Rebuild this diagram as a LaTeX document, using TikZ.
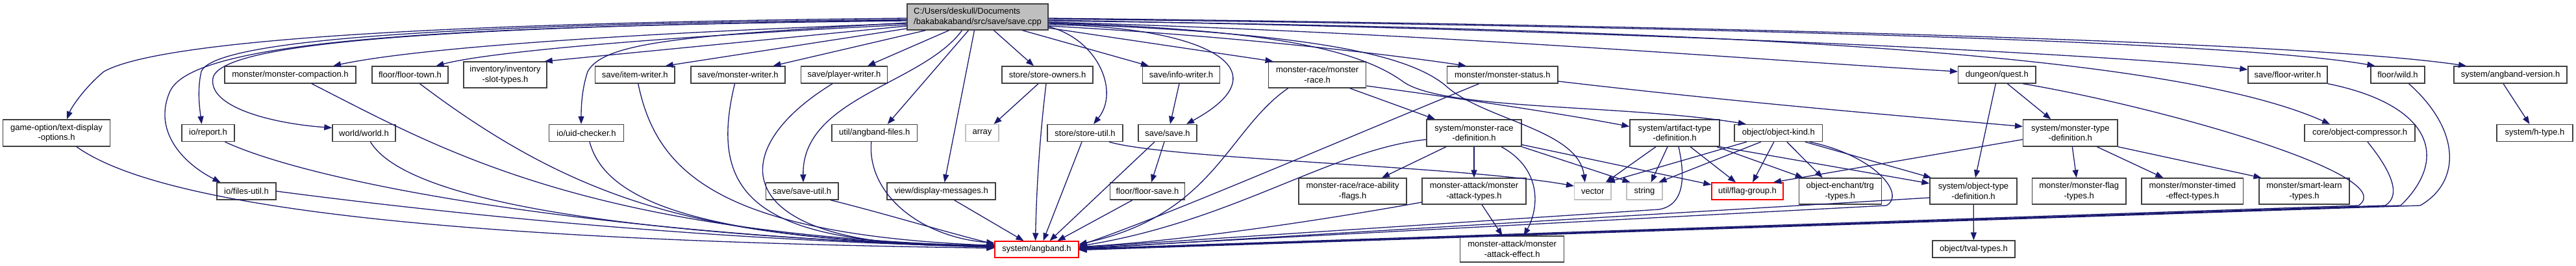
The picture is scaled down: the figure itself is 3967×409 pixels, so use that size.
\documentclass[tikz,border=0pt]{standalone}
\usepackage{fontspec}
\setmainfont{Liberation Sans}
\usetikzlibrary{arrows.meta}
\definecolor{edgecol}{HTML}{191970}
\definecolor{maingrey}{HTML}{BFBFBF}
\begin{document}
\begin{tikzpicture}[x=1pt,y=-1pt,
  filebox/.style={draw=black!75,line width=1.4pt,fill=white,inner sep=0pt,align=center,
    font=\fontsize{13}{15.3}\selectfont},
  onel/.style={minimum height=26pt},
  twol/.style={minimum height=40pt},
  wd/.style={minimum width=#1pt},
  extbox/.style={filebox,draw=maingrey},
  redbox/.style={filebox,draw=red},
  dep/.style={draw=edgecol,line width=1.3pt,-{Triangle[length=12pt,width=9pt]}},
]
\useasboundingbox[fill=white] (0,0) rectangle (3967,409);

% ---------- nodes ----------
\node[filebox,twol,wd=217,fill=maingrey,align=left] (main) at (1505.5,26) {C:/Users/deskull/Documents\\/bakabakaband/src/save/save.cpp};

% row 1
\node[filebox,onel,wd=202] (mcompact) at (447,115) {monster/monster-compaction.h};
\node[filebox,onel,wd=117] (floortown) at (631.5,115) {floor/floor-town.h};
\node[filebox,twol,wd=128] (invslot) at (778,115) {inventory/inventory\\-slot-types.h};
\node[filebox,onel,wd=122.5] (itemwriter) at (977.75,115) {save/item-writer.h};
\node[filebox,onel,wd=145] (monwriter) at (1136.5,115) {save/monster-writer.h};
\node[filebox,onel,wd=133.5] (playerwriter) at (1300,115) {save/player-writer.h};
\node[filebox,onel,wd=140] (storeowners) at (1613,115) {store/store-owners.h};
\node[filebox,onel,wd=118.6] (infowriter) at (1819,115) {save/info-writer.h};
\node[filebox,twol,wd=150] (monrace) at (2028.6,115) {monster-race/monster\\-race.h};
\node[filebox,onel,wd=170.4] (monstatus) at (2313.8,115) {monster/monster-status.h};
\node[filebox,onel,wd=119.4] (quest) at (3075.3,115) {dungeon/quest.h};
\node[filebox,onel,wd=122] (floorwriter) at (3523,115) {save/floor-writer.h};
\node[filebox,onel,wd=83] (floorwild) at (3692.5,115) {floor/wild.h};
\node[filebox,onel,wd=174] (angversion) at (3866,115) {system/angband-version.h};

% row 2
\node[filebox,minimum height=41pt,wd=165] (textdisp) at (87,204.5) {game-option/text-display\\-options.h};
\node[filebox,onel,wd=81] (report) at (320.5,204.5) {io/report.h};
\node[filebox,onel,wd=97] (world) at (560.5,204.5) {world/world.h};
\node[filebox,onel,wd=115] (uidchecker) at (903,204.5) {io/uid-checker.h};
\node[filebox,onel,wd=131.5] (angfiles) at (1346.75,204.5) {util/angband-files.h};
\node[extbox,onel,wd=51] (array) at (1512.5,204.5) {array};
\node[filebox,onel,wd=116] (storeutil) at (1671,204.5) {store/store-util.h};
\node[filebox,onel,wd=90] (saveh) at (1798,204.5) {save/save.h};
\node[filebox,minimum height=41pt,wd=146] (mracedef) at (2270,204.5) {system/monster-race\\-definition.h};
\node[filebox,minimum height=41pt,wd=138] (artdef) at (2579,204.5) {system/artifact-type\\-definition.h};
\node[filebox,onel,wd=135.7] (objkind) at (2738.8,204.5) {object/object-kind.h};
\node[filebox,minimum height=41pt,wd=145.4] (mtypedef) at (3188.3,204.5) {system/monster-type\\-definition.h};
\node[filebox,onel,wd=170] (objcompressor) at (3634,204.5) {core/object-compressor.h};
\node[filebox,onel,wd=117] (htype) at (3903.5,204.5) {system/h-type.h};

% row 3
\node[filebox,onel,wd=91] (filesutil) at (379.5,294) {io/files-util.h};
\node[filebox,onel,wd=111.6] (saveutil) at (1235,294) {save/save-util.h};
\node[filebox,onel,wd=167] (dispmsg) at (1449.5,294) {view/display-messages.h};
\node[filebox,onel,wd=114.5] (floorsave) at (1767,294) {floor/floor-save.h};
\node[filebox,twol,wd=166] (raceability) at (2083,294) {monster-race/race-ability\\-flags.h};
\node[filebox,twol,wd=160] (attacktypes) at (2270,294) {monster-attack/monster\\-attack-types.h};
\node[extbox,onel,wd=56.4] (vector) at (2452.8,294) {vector};
\node[extbox,onel,wd=55] (string) at (2532.5,294) {string};
\node[redbox,onel,wd=110] (flaggroup) at (2691,294) {util/flag-group.h};
\node[filebox,twol,wd=127] (enchtrg) at (2833.7,294) {object-enchant/trg\\-types.h};
\node[filebox,twol,wd=134] (objtypedef) at (3039,294) {system/object-type\\-definition.h};
\node[filebox,twol,wd=144.5] (mflagtypes) at (3201.7,294) {monster/monster-flag\\-types.h};
\node[filebox,twol,wd=156.5] (mtimed) at (3376.3,294) {monster/monster-timed\\-effect-types.h};
\node[filebox,twol,wd=139] (smartlearn) at (3548.5,294) {monster/smart-learn\\-types.h};

% row 4
\node[redbox,minimum height=25pt,wd=129] (angband) at (1596.5,383.5) {system/angband.h};
\node[filebox,twol,wd=160] (attackeffect) at (2328.6,383) {monster-attack/monster\\-attack-effect.h};
\node[filebox,onel,wd=127] (tvaltypes) at (3039.5,383) {object/tval-types.h};

% ---------- edges from main (left) ----------
\draw[dep] ([yshift=-2pt]main.west) .. controls (700,35) and (250,60) .. (160,110) .. controls (130,135) and (110,165) .. ([xshift=16pt]textdisp.north);
\draw[dep] ([yshift=-4pt]main.west) .. controls (700,37) and (330,60) .. (310,110) .. controls (303,140) and (308,170) .. ([xshift=-10pt]report.north);
\draw[dep] ([yshift=-6pt]main.west) .. controls (700,40) and (300,60) .. (262,140) .. controls (235,200) and (280,250) .. ([xshift=-40pt]filesutil.north);
\draw[dep] ([yshift=-5pt]main.west) .. controls (750,40) and (340,60) .. (328,120) .. controls (320,165) and (420,190) .. ([yshift=8pt]world.west);
\draw[dep] ([yshift=-10pt]main.west) .. controls (1000,50) and (650,72) .. ([xshift=66pt]mcompact.north);
\draw[dep] ([yshift=-12pt]main.west) .. controls (1050,55) and (760,78) .. ([xshift=40pt]floortown.north);
\draw[dep] ([yshift=-14pt]main.west) -- ([xshift=-4pt]invslot.north east);
\draw[dep] ([yshift=-9pt]main.west) .. controls (1050,55) and (930,65) .. (905,110) .. controls (895,140) and (895,170) .. ([xshift=-8pt]uidchecker.north);
\draw[dep] ([yshift=-18pt]main.west) -- ([xshift=47pt]itemwriter.north);
\draw[dep] ([xshift=-80pt]main.south) -- ([xshift=54pt]monwriter.north);
\draw[dep] ([xshift=-44pt]main.south) -- ([xshift=36pt]playerwriter.north);
\draw[dep] ([xshift=-24pt]main.south) .. controls (1420,130) and (1235,150) .. ([xshift=2pt]saveutil.north);
\draw[dep] ([xshift=-14pt]main.south) -- ([xshift=20pt]angfiles.north);
\draw[dep] ([xshift=-5pt]main.south) -- ([xshift=5pt]dispmsg.north);
\draw[dep] ([xshift=25pt]main.south) -- ([xshift=-21pt]storeowners.north);
\draw[dep] ([xshift=69pt]main.south) -- ([xshift=-50pt]infowriter.north);

% ---------- edges from main (right) ----------
\draw[dep] ([yshift=-15pt]main.east) .. controls (1690,60) and (1725,140) .. ([xshift=13pt]storeutil.north);
\draw[dep] ([yshift=-12pt]main.east) .. controls (1850,40) and (1985,105) .. ([xshift=29pt]saveh.north);
\draw[dep] ([yshift=-17pt]main.east) -- ([xshift=-68pt]monrace.north);
\draw[dep] ([yshift=-14pt]main.east) .. controls (1900,55) and (2150,85) .. ([xshift=-56pt]monstatus.north);
\draw[dep] ([yshift=-10pt]main.east) .. controls (2000,50) and (2170,80) .. (2230,135) .. controls (2290,185) and (2430,200) .. ([xshift=-12pt]vector.north);
\draw[dep] ([yshift=-9pt]main.east) .. controls (1950,45) and (2090,75) .. (2160,125) .. controls (2220,170) and (2500,160) .. ([xshift=-50pt]objkind.north);
\draw[dep] ([yshift=-8pt]main.east) .. controls (2200,50) and (2700,92) .. ([yshift=5pt]quest.west);
\draw[dep] ([yshift=-6pt]main.east) .. controls (2700,45) and (3350,85) .. ([xshift=-46pt]objcompressor.north);
\draw[dep] ([yshift=-5pt]main.east) .. controls (2600,48) and (3300,88) .. ([yshift=8pt]floorwriter.west);
\draw[dep] ([yshift=-3pt]main.east) .. controls (2700,42) and (3450,65) .. ([xshift=-35pt]floorwild.north);
\draw[dep] ([yshift=-2pt]main.east) .. controls (2700,40) and (3550,65) .. ([xshift=-68pt]angversion.north);

% ---------- left nodes to angband ----------
\draw[dep] ([xshift=31pt]textdisp.south) .. controls (250,320) and (700,370) .. ([yshift=2pt]angband.west);
\draw[dep] ([xshift=26pt]report.south) .. controls (480,280) and (900,360) .. ([yshift=3pt]angband.west);
\draw[dep] (filesutil.east) .. controls (700,330) and (1100,370) .. ([yshift=4pt]angband.west);
\draw[dep] ([xshift=10pt]world.south) .. controls (620,300) and (900,360) .. ([yshift=4pt]angband.west);
\draw[dep] ([xshift=33pt]mcompact.south) .. controls (680,230) and (900,360) .. ([yshift=5pt]angband.west);
\draw[dep] ([xshift=15pt]floortown.south) .. controls (900,320) and (1100,370) .. ([yshift=5pt]angband.west);
\draw[dep] ([xshift=5pt]uidchecker.south) .. controls (930,300) and (1050,370) .. ([yshift=6pt]angband.west);
\draw[dep] ([xshift=5pt]itemwriter.south) .. controls (1010,260) and (1100,360) .. ([yshift=6pt]angband.west);
\draw[dep] ([xshift=-5pt]monwriter.south) .. controls (1090,300) and (1160,380) .. ([yshift=7pt]angband.west);
\draw[dep] ([xshift=-18pt]playerwriter.south) .. controls (1100,240) and (1130,390) .. ([yshift=7pt]angband.west);
\draw[dep] ([xshift=44pt]saveutil.south) .. controls (1350,325) and (1450,355) .. ([yshift=8pt]angband.west);
\draw[dep] ([xshift=-5pt]angfiles.south) .. controls (1335,300) and (1420,365) .. ([yshift=10pt]angband.west);
\draw[dep] ([xshift=20pt]dispmsg.south) -- ([xshift=-20pt]angband.north);
\draw[dep] ([xshift=-14pt]storeowners.south) -- ([xshift=18pt]array.north);
\draw[dep] ([xshift=-2pt]storeowners.south) .. controls (1600,220) and (1596,300) .. ([xshift=-2pt]angband.north);
\draw[dep] ([xshift=-5pt]storeutil.south) -- ([xshift=10pt]angband.north);
\draw[dep] ([xshift=37pt]storeutil.south) .. controls (1800,245) and (2250,255) .. ([yshift=8pt]vector.west);
\draw[dep] ([xshift=-3pt]infowriter.south) -- ([xshift=4pt]saveh.north);
\draw[dep] ([xshift=-20pt]saveh.south) -- ([xshift=20pt]angband.north);
\draw[dep] ([xshift=-5pt]saveh.south) -- ([xshift=6pt]floorsave.north);
\draw[dep] ([xshift=-23pt]floorsave.south) -- ([xshift=32pt]angband.north);

% ---------- right side ----------
\draw[dep] ([xshift=-45pt]monrace.south) .. controls (1890,200) and (1870,330) .. ([yshift=8pt]angband.east);
\draw[dep] ([xshift=50pt]monrace.south) -- ([xshift=-60pt]mracedef.north);
\draw[dep] ([yshift=-17pt]monrace.east) .. controls (2200,145) and (2380,170) .. ([yshift=10pt]artdef.west);
\draw[dep] ([xshift=-36pt]monstatus.south) .. controls (2028,231) and (1800,330) .. ([yshift=6pt]angband.east);
\draw[dep] ([yshift=-10pt]monstatus.east) .. controls (2700,160) and (2950,180) .. ([yshift=10pt]mtypedef.west);

\draw[dep] ([yshift=-10pt]mracedef.west) .. controls (2050,230) and (1900,340) .. ([yshift=5pt]angband.east);
\draw[dep] ([xshift=-43pt]mracedef.south) -- ([xshift=45pt]raceability.north);
\draw[dep] (mracedef) -- (attacktypes);
\draw[dep] ([xshift=42pt]mracedef.south) .. controls (2375,260) and (2370,320) .. ([xshift=18pt]attackeffect.north);
\draw[dep] (mracedef.south east) -- ([xshift=-22pt]string.north);
\draw[dep] ([yshift=-18pt]mracedef.east) -- ([yshift=10pt]flaggroup.west);
\draw[dep] ([xshift=12pt]attacktypes.south) -- ([xshift=-15pt]attackeffect.north);
\draw[dep] ([yshift=-17pt]attacktypes.west) .. controls (2000,345) and (1800,372) .. ([yshift=4pt]angband.east);

\draw[dep] ([xshift=-29pt]artdef.south) -- ([xshift=20pt]vector.north);
\draw[dep] ([xshift=-11pt]artdef.south) -- ([xshift=10pt]string.north);
\draw[dep] ([xshift=6pt]artdef.south) .. controls (2595,270) and (2595,315) .. (2555,322) -- ([yshift=3pt]angband.east);
\draw[dep] ([xshift=24pt]artdef.south) -- ([xshift=-18pt]flaggroup.north);
\draw[dep] ([xshift=-5pt]artdef.south east) -- ([xshift=-57pt]enchtrg.north);
\draw[dep] (artdef.south east) -- ([yshift=12pt]objtypedef.west);

\draw[dep] ([xshift=-49pt]objkind.south) -- ([xshift=22pt]vector.north);
\draw[dep] ([xshift=-27pt]objkind.south) -- ([xshift=22pt]string.north);
\draw[dep] ([xshift=-7pt]objkind.south) -- ([xshift=8pt]flaggroup.north);
\draw[dep] ([xshift=13pt]objkind.south) -- ([xshift=-27pt]enchtrg.north);
\draw[dep] ([xshift=41pt]objkind.south) -- ([xshift=-65pt]objtypedef.north);
\draw[dep] ([xshift=48pt]objkind.south) .. controls (2890,240) and (2935,300) .. (2905,316) -- ([yshift=2pt]angband.east);

\draw[dep] ([xshift=-2pt]quest.south) -- ([xshift=3pt]objtypedef.north);
\draw[dep] ([xshift=16pt]quest.south) -- ([xshift=-30pt]mtypedef.north);
\draw[dep] ([xshift=40pt]quest.south) .. controls (3330,165) and (3700,270) .. (3632,316) -- ([yshift=1pt]angband.east);

\draw[dep] ([yshift=-10pt]mtypedef.west) -- ([xshift=40pt]flaggroup.north);
\draw[dep] ([xshift=3pt]mtypedef.south) -- ([xshift=-4pt]mflagtypes.north);
\draw[dep] ([xshift=41pt]mtypedef.south) -- ([xshift=-45pt]mtimed.north);
\draw[dep] (mtypedef.south east) -- ([xshift=-66pt]smartlearn.north);

\draw[dep] (objtypedef) -- (tvaltypes);
\draw[dep] ([yshift=-10pt]objtypedef.west) -- ([yshift=1pt]angband.east);

\draw[dep] (floorwriter.south east) .. controls (3740,160) and (3775,240) .. (3697,316) -- (angband.east);
\draw[dep] ([xshift=17pt]floorwild.south) .. controls (3790,200) and (3790,280) .. (3727,316) -- ([yshift=-1pt]angband.east);
\draw[dep] ([xshift=12pt]objcompressor.south) .. controls (3680,260) and (3700,300) .. (3673,316) -- (angband.east);
\draw[dep] ([xshift=-11pt]angversion.south) -- ([xshift=-8pt]htype.north);
\end{tikzpicture}
\end{document}
